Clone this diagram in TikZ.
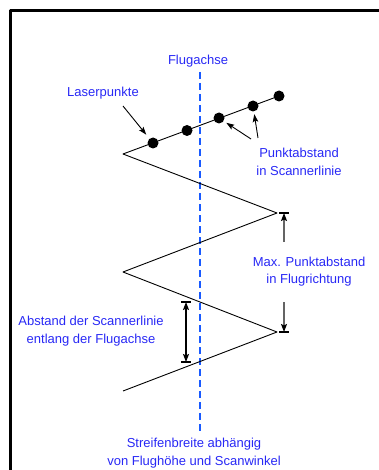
\documentclass[tikz,border=0pt]{standalone}
\usepackage{fontspec}
\setmainfont{Liberation Sans}
\usetikzlibrary{arrows.meta}
\definecolor{lblblue}{RGB}{40,40,245}
\definecolor{axisblue}{RGB}{25,90,255}
\definecolor{dimgray}{RGB}{100,100,100}
\tikzset{
  every picture/.style={line join=round, >=Stealth},
  lbl/.style={text=lblblue, font=\fontsize{13}{17.5}\selectfont, align=center, inner sep=0pt},
  pkt/.style={circle, fill=black, inner sep=0pt, minimum size=11pt},
  ptr/.style={-{Stealth[length=8pt,width=5.5pt,inset=1.5pt]}, line width=0.9pt},
  dimarr/.style={-{Stealth[length=8pt,width=6pt,inset=1.5pt,black]}, line width=1.1pt},
  bar/.style={line width=1.1pt},
}
\begin{document}
\begin{tikzpicture}[x=1pt,y=-1pt]
\useasboundingbox (0,0) rectangle (379,470);
% Rahmen
\draw[line width=3pt] (10,470) -- (10,11) -- (379,11);
% Flugachse
\draw[axisblue, line width=2.5pt, dash pattern=on 7pt off 4pt] (200,72) -- (200,433);
\node[lbl] (achse) at (198,61) {Flugachse};
% Scannerlinie
\coordinate (z0) at (279,96);
\coordinate (z1) at (123,154);
\coordinate (z2) at (277,213);
\coordinate (z3) at (123,272);
\coordinate (z4) at (277,332);
\coordinate (z5) at (123,391);
\draw[line width=0.9pt] (z0) -- (z1) -- (z2) -- (z3) -- (z4) -- (z5);
% Laserpunkte
\node[pkt] (p1) at (153,143) {};
\node[pkt] (p2) at (187,130.5) {};
\node[pkt] (p3) at (219,118) {};
\node[pkt] (p4) at (253,106) {};
\node[pkt] (p5) at (279,96) {};
\node[lbl] (laser) at (103,93.5) {Laserpunkte};
\coordinate (l1) at (123,106);
\draw[ptr, shorten >=5pt] (l1) -- (p1);
\node[lbl] (abst) at (299,162) {Punktabstand\\in Scannerlinie};
\coordinate (s1) at (251,139);
\coordinate (s2) at (258,138);
\draw[ptr, shorten >=3pt] (s1) -- (p3);
\draw[ptr, shorten >=2.5pt] (s2) -- (p4);
% Max. Punktabstand
\node[lbl] (maxabst) at (309,271.5) {Max. Punktabstand\\in Flugrichtung};
\coordinate (m1) at (284,242);
\coordinate (m2) at (284,213);
\coordinate (m3) at (284,302);
\coordinate (m4) at (284,332);
\draw[dimarr, draw=dimgray] (m1) -- (m2);
\draw[dimarr, draw=dimgray] (m3) -- (m4);
\draw[bar] ([xshift=-5pt]m2) -- ([xshift=5pt]m2);
\draw[bar] ([xshift=-5pt]m4) -- ([xshift=5pt]m4);
% Abstand der Scannerlinie
\node[lbl] (linabst) at (91,331) {Abstand der Scannerlinie\\entlang der Flugachse};
\coordinate (d1) at (186,302);
\coordinate (d2) at (186,362);
\draw[line width=1.1pt, {Stealth[length=8pt,width=6pt,inset=1.5pt]}-{Stealth[length=8pt,width=6pt,inset=1.5pt]}] (d1) -- (d2);
\draw[bar] ([xshift=-5pt]d1) -- ([xshift=5pt]d1);
\draw[bar] ([xshift=-5pt]d2) -- ([xshift=5pt]d2);
% Streifenbreite
\node[lbl] (streifen) at (194,453) {Streifenbreite abhängig\\von Flughöhe und Scanwinkel};
\end{tikzpicture}
\end{document}
